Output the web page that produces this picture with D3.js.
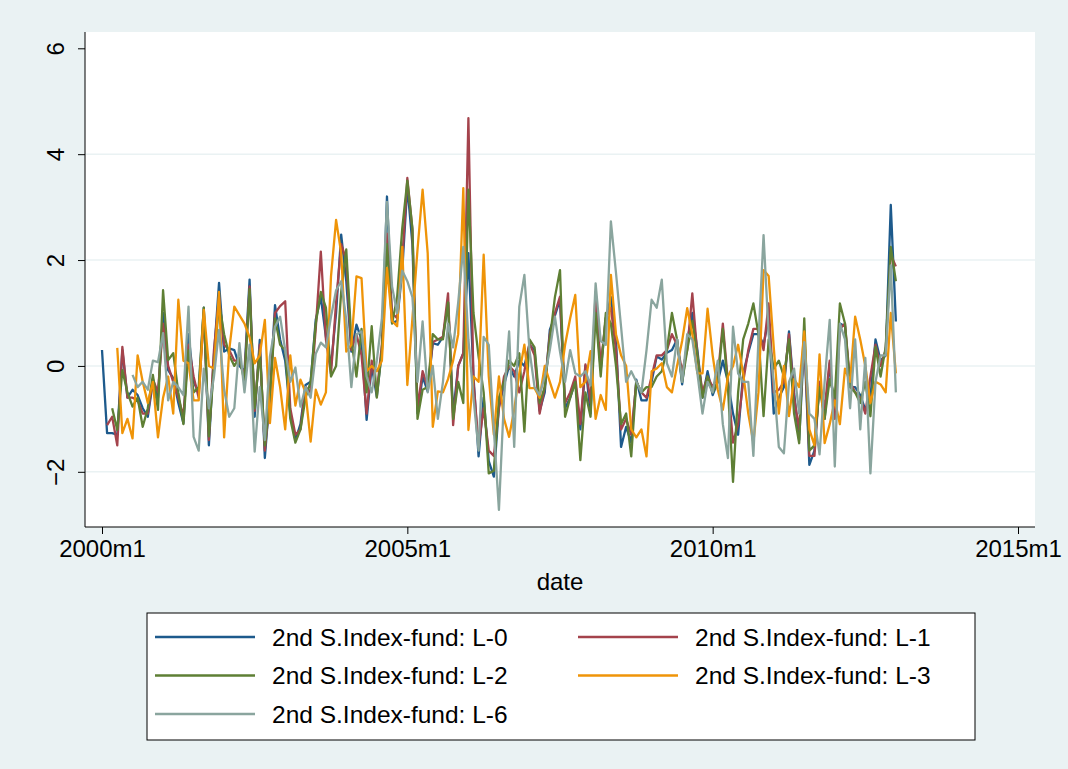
<!DOCTYPE html>
<html>
<head>
<meta charset="utf-8">
<script src="https://cdn.jsdelivr.net/npm/d3@7"></script>
<style>
  body { margin: 0; background: #eaf2f3; }
  text { font-family: "Liberation Sans", Arial, Helvetica, sans-serif; fill: #000; }
</style>
</head>
<body>
<svg id="chart"></svg>
<script>
// monthly series, index 0 = 2000m1 ... 156 = 2013m1
let L0 = [
  0.3, -1.27, -1.27, -1.3, 0.3, -0.6, -0.45, -0.55, -0.8, -0.96, -0.3, -0.6,
  1.0, -0.08, -0.23, -0.7, -1.08, 0.6, -0.3, -0.5, 1.1, -1.5, 0.2, 1.57,
  0.27, 0.33, 0.3, 0.0, -0.1, 1.63, -0.96, 0.49, -1.74, -0.5, 1.15, 0.5,
  0.1, -0.9, -1.4, -1.1, -0.36, -0.3, 0.87, 1.3, 0.55, 0.0, 1.0, 2.48,
  1.6, 0.27, 0.78, 0.5, -1.02, 0.0, -0.58, 0.3, 3.2, 0.81, 0.85, 1.8,
  3.4, 2.3, -0.9, -0.2, -0.48, 0.43, 0.4, 0.55, 1.2, -0.9, 0.0, 0.24,
  2.13, -0.2, -1.71, -0.6, -1.8, -2.09, -0.77, -0.36, 0.0, -0.2, 0.1, 0.0,
  0.4, 0.3, -0.85, -0.5, 0.68, 0.95, 1.25, -0.8, -0.6, -0.3, -1.2, 0.0,
  -0.9, 1.2, -0.08, 0.9, 1.3, 0.5, -1.53, -1.15, -1.45, -0.26, -0.65, -0.65,
  -0.3, 0.18, 0.12, 0.25, 0.3, 0.5, -0.35, 0.47, 1.0, 0.3, -0.6, -0.1,
  -0.55, -0.3, 0.1, -0.3, -0.9, -1.3, -0.14, 0.25, 0.6, 0.6, 0.4, 0.9,
  -0.9, -0.6, -0.4, 0.65, -0.5, -1.4, 0.5, -1.87, -1.6, -0.3, -1.0, 0.05,
  -0.95, 0.8, 0.75, -0.4, -0.4, -0.55, -0.83, -0.6, 0.5, 0.1, 0.2, 3.04, 0.84
]
let L1 = [
  null, -1.12, -0.96, -1.5, 0.36, -0.6, -0.6, -0.65, -0.9, -0.9, -0.25, -0.5,
  0.8, 0.0, -0.3, -0.6, -0.95, 0.4, -0.2, -0.6, 1.0, -1.4, 0.3, 1.3,
  0.4, 0.3, 0.1, 0.1, -0.2, 1.5, -0.85, 0.4, -1.6, -0.6, 1.0, 1.13,
  1.22, -0.8, -1.3, -1.2, -0.4, -0.5, 0.7, 2.16, 0.5, -0.15, 1.2, 2.3,
  2.0, 0.3, 0.6, 0.2, -0.9, 0.1, -0.5, 0.4, 2.5, 1.0, 0.9, 2.0,
  3.55, 2.57, -0.8, -0.1, -0.4, 0.45, 0.5, 0.55, 1.37, -1.12, 0.0, 0.24,
  4.68, -0.3, -1.5, -0.8, -1.6, -1.7, -0.8, -0.2, 0.0, -0.1, -0.5, -0.1,
  0.43, 0.2, -0.9, -0.4, 0.6, 1.0, 1.31, -0.7, -0.5, -0.2, -1.1, 0.03,
  -0.7, 1.4, 0.0, 0.9, 1.1, 0.3, -1.2, -1.0, -1.3, -0.3, -0.5, -0.6,
  -0.2, 0.2, 0.2, 0.3, 0.6, 0.4, -0.1, 0.3, 1.37, 0.2, -0.5, -0.2,
  -0.4, -0.2, 0.8, -0.3, -1.45, -1.1, -0.3, 0.3, 0.7, 0.7, 0.3, 1.18,
  -0.5, -0.45, -0.3, 0.6, -0.6, -1.2, 0.6, -1.7, -1.7, -0.3, -0.8, 0.1,
  -1.0, 0.7, 0.8, -0.3, -0.5, -0.6, -0.9, -0.2, 0.4, 0.0, 0.3, 2.1, 1.88
]
let L2 = [
  null, null, -0.8, -1.21, -0.08, -0.5, -0.77, -0.6, -1.15, -0.8, -0.17, -0.83,
  1.43, 0.11, 0.24, -0.5, -1.1, 0.3, -0.5, -0.4, 1.1, -1.33, 0.0, 1.2,
  0.6, 0.2, 0.0, 0.15, -0.3, 1.45, -0.8, 0.3, -1.5, -0.6, 0.9, 0.4,
  0.3, -1.0, -1.45, -1.2, -0.6, -0.3, 0.8, 1.4, 1.1, -0.2, 0.0, 1.4,
  2.2, 0.5, -0.2, 0.7, -0.5, 0.75, -0.6, 0.3, 2.3, 0.8, 1.3, 2.6,
  3.5, 2.6, -1.0, -0.45, -0.4, 0.6, 0.5, 0.5, 1.2, -1.0, -0.3, -0.7,
  3.33, 1.0, 0.18, -0.5, -2.03, -1.98, -0.6, -0.3, 0.1, 0.0, 0.24, -1.24,
  0.5, 0.35, -0.7, -0.4, 0.5, 1.3, 1.81, -0.96, -0.6, -0.3, -1.78, -0.5,
  -0.96, 1.0, -0.2, 1.0, 0.8, 0.0, -1.1, -0.9, -1.71, -0.3, -0.5, -0.4,
  -0.4, -0.2, -0.1, 0.3, 1.0, 0.5, -0.3, 0.3, 0.85, 0.2, -0.6, -0.2,
  -0.5, -0.3, 0.7, -0.4, -2.19, -0.5, 0.5, 0.8, 1.18, 0.6, -0.95, 0.5,
  -0.05, 0.1, -0.2, 0.5, -0.9, -1.46, 0.9, -1.6, -1.5, -0.4, -1.0, -0.25,
  -0.6, 1.18, 0.8, -0.4, -0.5, -0.7, -0.3, -0.95, 0.36, -0.2, 0.36, 2.25, 1.6
]
let L3 = [
  null, null, null, 0.34, -1.27, -1.0, -1.37, 0.2, -0.3, -0.7, -0.3, -1.35,
  -0.6, -0.2, -0.9, 1.25, 0.1, 0.05, -0.65, -0.65, 1.06, 0.0, -0.05, 1.4,
  -1.35, 0.3, 1.12, 0.96, 0.8, 0.54, 0.05, 0.2, 0.87, -1.08, 0.15, -0.4,
  -1.2, 0.2, -0.75, -0.26, -0.5, -1.43, -0.45, -0.73, -0.5, 1.69, 2.76, 2.13,
  0.27, 0.4, 1.69, 1.66, -0.1, 0.0, -0.1, 0.1, 1.85, 0.85, 0.75, 2.25,
  -0.36, 0.9, 2.2, 3.33, 2.13, -1.15, -0.48, -0.5, -0.25, 0.1, 0.6, 3.36,
  -1.21, -0.2, -0.3, 2.1, -0.2, -1.3, -0.2, -1.0, -1.34, -0.83, -0.14, 0.4,
  -0.42, -0.42, -0.6, 0.0, -0.3, -0.6, -0.3, 0.4, 0.9, 1.34, -0.4, -0.3,
  0.28, -1.0, -0.55, -0.83, 1.72, 0.6, 0.2, 0.0, -1.2, -1.35, -1.2, -1.71,
  -0.1, -0.05, 0.05, -0.4, -0.5, 0.0, 0.47, 1.09, 0.6, -0.14, -0.14, 1.08,
  0.2, -0.45, -0.83, -0.2, 0.0, 0.4, -0.14, -0.9, -1.45, -0.5, 1.81, 1.7,
  0.36, -0.9, 0.0, -0.95, -0.25, -0.4, 0.65, -1.2, -1.5, 0.22, -1.46, -1.1,
  -0.65, -1.1, -0.05, -0.3, 0.93, 0.5, 0.0, -0.7, -0.3, -0.35, -0.5, 1.0, -0.14
]
let L6 = [
  null, null, null, null, null, null, -0.17, -0.4, -0.3, -0.45, 0.1, 0.07,
  0.62, -0.65, -0.3, -0.4, -0.55, 1.12, -1.34, -1.6, -0.05, -0.8, -0.2, 0.68,
  -0.45, -0.96, -0.8, 0.43, -0.5, 0.4, -1.62, -0.4, -1.4, 0.18, 0.74, 0.93,
  0.3, -0.3, -0.03, -0.77, -0.4, -0.6, 0.23, 0.44, 0.35, 0.93, 1.43, 1.6,
  0.87, -0.4, 0.6, 0.65, -0.2, -0.5, 0.1, 0.9, 3.1, 1.5, 1.0, 1.8,
  1.6, 1.3, -0.3, 0.84, -0.5, 0.0, -1.0, -0.3, 0.8, 0.35, 1.2, 2.25,
  0.5, -0.6, -1.6, 0.55, 0.4, -1.2, -2.72, -0.6, 0.65, -1.53, 1.12, 1.72,
  0.3, -0.4, -0.55, -0.2, 0.3, 0.93, 0.27, -0.3, 0.3, -0.14, -0.2, -0.1,
  -0.37, 1.56, 0.47, 0.4, 2.73, 1.76, 0.74, -0.3, -0.1, -0.3, -0.5, 0.3,
  1.25, 1.1, 1.63, 0.05, -0.2, 0.5, -0.3, 0.6, 0.5, -0.14, -0.9, -0.3,
  -0.5, 0.1, -1.1, -1.74, 0.74, -0.14, -0.3, -0.3, -1.7, 0.5, 2.47, 0.6,
  -0.3, -1.53, -1.65, -0.3, -0.05, -0.9, 0.45, -0.9, -1.0, -1.67, -0.3, 0.87,
  -1.9, 0.8, 0.5, -0.8, 0.5, -1.2, 0.15, -2.03, -0.3, 0.2, 0.2, 1.9, -0.5
]

let seriesNames = [
  '2nd S.Index-fund: L-0',
  '2nd S.Index-fund: L-1',
  '2nd S.Index-fund: L-2',
  '2nd S.Index-fund: L-3',
  '2nd S.Index-fund: L-6'
]
let seriesColors = ['#1d5a8c', '#a4434c', '#5e7f34', '#ef9408', '#8aa59e']

let yTicks = [-2, 0, 2, 4, 6]
let gridTicks = [-2, 0, 2, 4]
let xTicks = [0, 60, 120, 180]
let xTickLabels = ['2000m1', '2005m1', '2010m1', '2015m1']

let width = 1068
let height = 769
let plot = { left: 85, right: 1035, top: 32, bottom: 527 }

let svg = d3.select('#chart')
  .attr('width', width)
  .attr('height', height)

svg.append('rect')
  .attr('width', width)
  .attr('height', height)
  .attr('fill', '#eaf2f3')

svg.append('rect')
  .attr('x', plot.left)
  .attr('y', plot.top)
  .attr('width', plot.right - plot.left)
  .attr('height', plot.bottom - plot.top)
  .attr('fill', '#fff')

let x = d3.scaleLinear().domain([0, 180]).range([102, 1018])
let y = d3.scaleLinear().domain([-2, 6]).range([471.8, 48.3])

// grid
svg.selectAll('.grid')
  .data(gridTicks)
  .enter()
  .append('line')
  .attr('class', 'grid')
  .attr('x1', plot.left)
  .attr('x2', plot.right)
  .attr('y1', d => y(d))
  .attr('y2', d => y(d))
  .attr('stroke', '#eaf2f3')
  .attr('stroke-width', 1.5)

// lines
let allSeries = [L0, L1, L2, L3, L6]
let line = d3.line()
  .defined(d => d != null)
  .x((d, i) => x(i))
  .y(d => y(d))

svg.selectAll('.series')
  .data(allSeries)
  .enter()
  .append('path')
  .attr('class', 'series')
  .attr('d', d => line(d))
  .attr('fill', 'none')
  .attr('stroke', (d, i) => seriesColors[i])
  .attr('stroke-width', 2.3)
  .attr('stroke-linejoin', 'round')

// y axis
let yAxis = svg.append('g')
  .attr('transform', `translate(${plot.left},0)`)
  .call(d3.axisLeft(y).tickValues(yTicks).tickSize(7).tickFormat(d3.format('d')))
yAxis.select('.domain').remove()
yAxis.selectAll('line').attr('stroke', '#000')
yAxis.selectAll('text')
  .attr('x', 0)
  .attr('y', -21)
  .attr('dy', 0)
  .attr('transform', 'rotate(-90)')
  .attr('text-anchor', 'middle')
  .style('font-size', '24px')
  .style('font-family', '"Liberation Sans", Arial, sans-serif')
svg.append('line')
  .attr('x1', plot.left).attr('x2', plot.left)
  .attr('y1', plot.top).attr('y2', plot.bottom)
  .attr('stroke', '#000')

// x axis
let xAxis = svg.append('g')
  .attr('transform', `translate(0,${plot.bottom})`)
  .call(d3.axisBottom(x).tickValues(xTicks).tickSize(7).tickPadding(6)
    .tickFormat((d, i) => xTickLabels[i]))
xAxis.select('.domain').remove()
xAxis.selectAll('line').attr('stroke', '#000')
xAxis.selectAll('text')
  .style('font-size', '24px')
  .style('font-family', '"Liberation Sans", Arial, sans-serif')
svg.append('line')
  .attr('x1', plot.left).attr('x2', plot.right)
  .attr('y1', plot.bottom).attr('y2', plot.bottom)
  .attr('stroke', '#000')

svg.append('text')
  .attr('x', (plot.left + plot.right) / 2)
  .attr('y', 590)
  .attr('text-anchor', 'middle')
  .style('font-size', '24px')
  .text('date')

// legend
let legend = svg.append('g')
legend.append('rect')
  .attr('x', 147)
  .attr('y', 613)
  .attr('width', 828)
  .attr('height', 127)
  .attr('fill', '#fff')
  .attr('stroke', '#000')

let items = legend.selectAll('.item')
  .data(seriesNames)
  .enter()
  .append('g')
  .attr('class', 'item')
  .attr('transform', (d, i) => `translate(${155 + (i % 2) * 423},${637 + Math.floor(i / 2) * 38.5})`)

items.append('line')
  .attr('x1', 0)
  .attr('x2', 100)
  .attr('stroke', (d, i) => seriesColors[i])
  .attr('stroke-width', 2.3)

items.append('text')
  .attr('x', 117)
  .attr('dy', '0.35em')
  .style('font-size', '24.5px')
  .text(d => d)
</script>
</body>
</html>
